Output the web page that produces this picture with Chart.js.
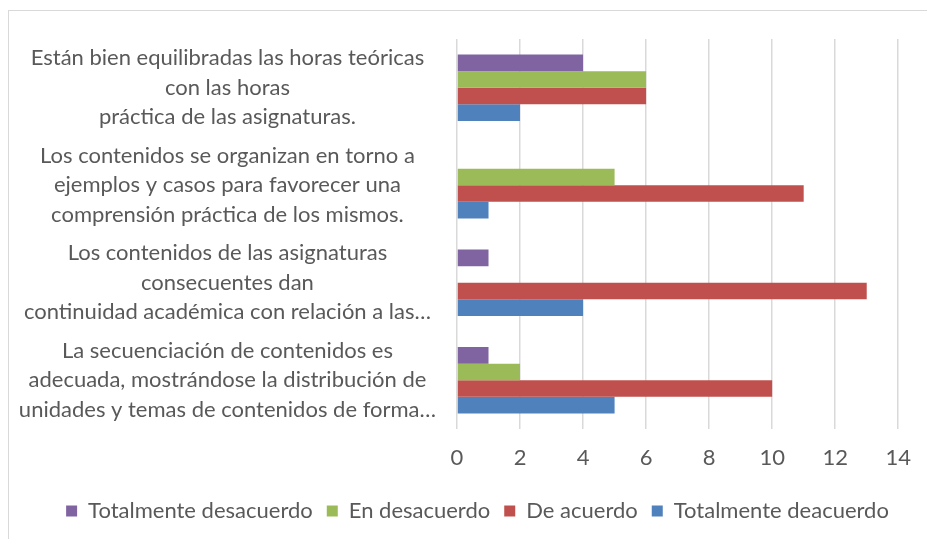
<!DOCTYPE html>
<html>
<head>
<meta charset="utf-8">
<script src="https://cdn.jsdelivr.net/npm/chart.js@4/dist/chart.umd.min.js"></script>
<style>
  body { margin: 0; background: #fff; }
  #wrap { position: relative; width: 927px; height: 539px; overflow: hidden; }
  #frame { position: absolute; left: 8px; top: 10px; width: 940px; height: 560px;
           border-top: 1px solid #d9d9d9; border-left: 1px solid #d9d9d9; }
  canvas { position: absolute; left: 0; top: 0; }
</style>
</head>
<body>
<div id="wrap">
  <div id="frame"></div>
  <canvas id="chart" width="927" height="539"></canvas>
</div>
<script>
// Categories (multi-line labels, as in the original)
const categories = [
    ['Están bien equilibradas las horas teóricas', 'con las horas', 'práctica de las asignaturas.'],
    ['Los contenidos se organizan en torno a', 'ejemplos y casos para favorecer una', 'comprensión práctica de los mismos.'],
    ['Los contenidos de las asignaturas', 'consecuentes dan', 'continuidad académica con relación a las…'],
    ['La secuenciación de contenidos es', 'adecuada, mostrándose la distribución de', 'unidades y temas de contenidos de forma…']
];

// Series
const seriesNames = ['Totalmente desacuerdo', 'En desacuerdo', 'De acuerdo', 'Totalmente deacuerdo'];
const totalmenteDesacuerdo = [4, 0, 1, 1];
const enDesacuerdo = [6, 5, 0, 2];
const deAcuerdo = [6, 11, 13, 10];
const totalmenteDeacuerdo = [2, 1, 4, 5];

// Axis
const xMin = 0;
const xMax = 14;
const xStep = 2;

const colors = ['#8064a2', '#9bbb59', '#c0504d', '#4f81bd'];
const textColor = '#595959';
const fontFamily = 'Lato, "Open Sans", sans-serif';

const values = [totalmenteDesacuerdo, enDesacuerdo, deAcuerdo, totalmenteDeacuerdo];

// legend sits a bit right of the centre in the original
const legendShift = {
    id: 'legendShift',
    afterLayout(chart) {
        chart.legend.left += 23;
        chart.legend.right += 23;
    }
};

let ctx = document.querySelector('#chart').getContext('2d');
let myChart = new Chart(ctx, {
    type: 'bar',
    data: {
        labels: categories,
        datasets: values.map((v, i) => ({
            label: seriesNames[i],
            data: v,
            backgroundColor: colors[i],
            borderWidth: 0,
            categoryPercentage: 0.68,
            barPercentage: 1
        }))
    },
    options: {
        indexAxis: 'y',
        responsive: false,
        animation: false,
        layout: {
            padding: { top: 39, right: 28, left: 10, bottom: 7 }
        },
        scales: {
            x: {
                min: xMin,
                max: xMax,
                ticks: {
                    stepSize: xStep,
                    color: textColor,
                    padding: 16,
                    font: { family: fontFamily, size: 22 }
                },
                grid: { color: '#d9d9d9', lineWidth: 1.5, drawTicks: false },
                border: { display: false },
                afterFit: (scale) => { scale.height = 57; }
            },
            y: {
                ticks: {
                    color: textColor,
                    padding: 21,
                    autoSkip: false,
                    crossAlign: 'center',
                    font: { family: fontFamily, size: 22, lineHeight: 1.34 }
                },
                grid: { display: false, drawTicks: false },
                border: { display: false },
                afterFit: (scale) => {
                    scale.width = 447;
                    scale.paddingTop = 0;
                    scale.paddingBottom = 0;
                }
            }
        },
        plugins: {
            legend: {
                position: 'bottom',
                labels: {
                    color: textColor,
                    boxWidth: 11,
                    boxHeight: 11,
                    padding: 14,
                    font: { family: fontFamily, size: 22 }
                }
            },
            tooltip: { enabled: false }
        }
    },
    plugins: [legendShift]
});
</script>
</body>
</html>
